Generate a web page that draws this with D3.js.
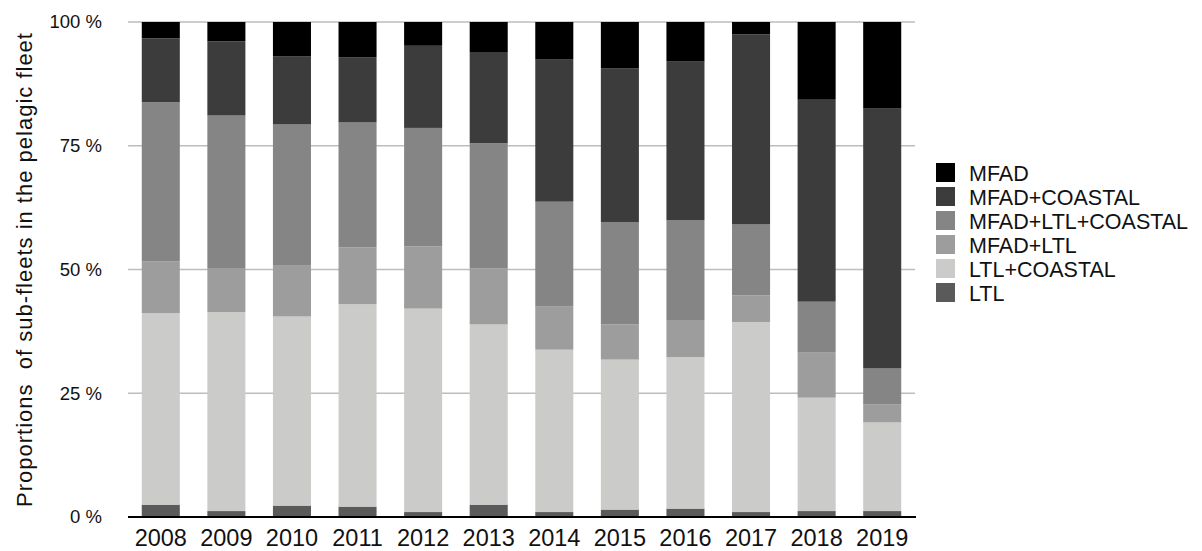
<!DOCTYPE html>
<html>
<head>
<meta charset="utf-8">
<script src="https://cdn.jsdelivr.net/npm/d3@7"></script>
<style>
  body { margin: 0; background: #fff; }
  svg text { font-family: "Liberation Sans", Arial, Helvetica, sans-serif; fill: #111; }
</style>
</head>
<body>
<div id="chart"></div>
<script>
// years on the x axis
const years = ["2008", "2009", "2010", "2011", "2012", "2013", "2014", "2015", "2016", "2017", "2018", "2019"];

// share of each sub-fleet (%), stacked from bottom to top
const LTL =              [2.5, 1.2, 2.3, 2.1, 1.0, 2.5, 1.0, 1.5, 1.7, 1.0, 1.2, 1.2];
const LTL_COASTAL =      [38.7, 40.2, 38.2, 40.9, 41.1, 36.4, 32.8, 30.3, 30.6, 38.4, 22.9, 17.9];
const MFAD_LTL =         [10.4, 8.9, 10.4, 11.5, 12.6, 11.3, 8.8, 7.1, 7.5, 5.4, 9.1, 3.6];
const MFAD_LTL_COASTAL = [32.2, 30.8, 28.4, 25.2, 23.9, 25.3, 21.1, 20.7, 20.2, 14.3, 10.3, 7.3];
const MFAD_COASTAL =     [12.9, 15.0, 13.8, 13.2, 16.6, 18.3, 28.7, 31.0, 32.0, 38.4, 40.8, 52.5];
const MFAD =             [3.3, 3.9, 6.9, 7.1, 4.8, 6.2, 7.6, 9.4, 8.0, 2.5, 15.7, 17.5];

const seriesNames = ["LTL", "LTL+COASTAL", "MFAD+LTL", "MFAD+LTL+COASTAL", "MFAD+COASTAL", "MFAD"];
const seriesValues = [LTL, LTL_COASTAL, MFAD_LTL, MFAD_LTL_COASTAL, MFAD_COASTAL, MFAD];
const seriesColors = ["#5a5a5a", "#cbccca", "#9d9d9d", "#858585", "#3c3c3c", "#000000"];

const yTicks = [0, 25, 50, 75, 100];
const yTitle = "Proportions  of sub-fleets in the pelagic fleet";

const width = 1202, height = 551;
const margin = { top: 22, right: 287, bottom: 34, left: 128 };

const svg = d3.select("#chart")
    .append("svg")
    .attr("width", width)
    .attr("height", height);

// build rows for d3.stack
const rows = years.map((y, i) => {
    const r = { year: y };
    seriesNames.forEach((s, j) => { r[s] = seriesValues[j][i]; });
    return r;
});
const stacked = d3.stack().keys(seriesNames)(rows);

const x = d3.scaleBand()
    .domain(years)
    .range([margin.left, width - margin.right])
    .paddingInner(0.42)
    .paddingOuter(0.21);

const y = d3.scaleLinear()
    .domain([0, 100])
    .range([height - margin.bottom, margin.top]);

// grid lines
svg.append("g")
    .selectAll("line")
    .data(yTicks.filter(d => d > 0))
    .enter().append("line")
    .attr("x1", margin.left)
    .attr("x2", width - margin.right)
    .attr("y1", d => y(d))
    .attr("y2", d => y(d))
    .style("stroke", "#bdbdbd")
    .style("stroke-width", 1.5);

// bars
const color = d3.scaleOrdinal().domain(seriesNames).range(seriesColors);
svg.append("g")
    .selectAll("g")
    .data(stacked)
    .enter().append("g")
    .style("fill", d => color(d.key))
    .selectAll("rect")
    .data(d => d)
    .enter().append("rect")
    .attr("x", d => x(d.data.year))
    .attr("width", x.bandwidth())
    .attr("y", d => y(d[1]))
    .attr("height", d => y(d[0]) - y(d[1]));

// baseline
svg.append("line")
    .attr("x1", margin.left)
    .attr("x2", width - margin.right + 1)
    .attr("y1", y(0))
    .attr("y2", y(0))
    .style("stroke", "#000")
    .style("stroke-width", 2);

// y axis labels
const yAxis = svg.append("g")
    .attr("transform", "translate(" + margin.left + ",0)")
    .call(d3.axisLeft(y).tickValues(yTicks).tickSize(0).tickPadding(26).tickFormat(d => d + " %"));
yAxis.select(".domain").remove();
yAxis.selectAll("text").style("font-size", "18.5px");

// x axis labels
const xAxis = svg.append("g")
    .attr("transform", "translate(0," + y(0) + ")")
    .call(d3.axisBottom(x).tickSize(0).tickPadding(12));
xAxis.select(".domain").remove();
xAxis.selectAll("text").style("font-size", "23.5px");

// y title
svg.append("text")
    .attr("transform", "translate(32,270) rotate(-90)")
    .attr("text-anchor", "middle")
    .attr("textLength", 474)
    .attr("lengthAdjust", "spacing")
    .style("font-size", "22px")
    .style("white-space", "pre")
    .text(yTitle);

// legend, top entry is MFAD
const legendItems = seriesNames.slice().reverse();
const legend = svg.append("g")
    .attr("transform", "translate(936,163)");
const item = legend.selectAll("g")
    .data(legendItems)
    .enter().append("g")
    .attr("transform", (d, i) => "translate(0," + i * 24 + ")");
item.append("rect")
    .attr("width", 19)
    .attr("height", 19)
    .style("fill", d => color(d));
item.append("text")
    .attr("x", 33)
    .attr("y", 18)
    .style("font-size", "21.5px")
    .text(d => d);
</script>
</body>
</html>
